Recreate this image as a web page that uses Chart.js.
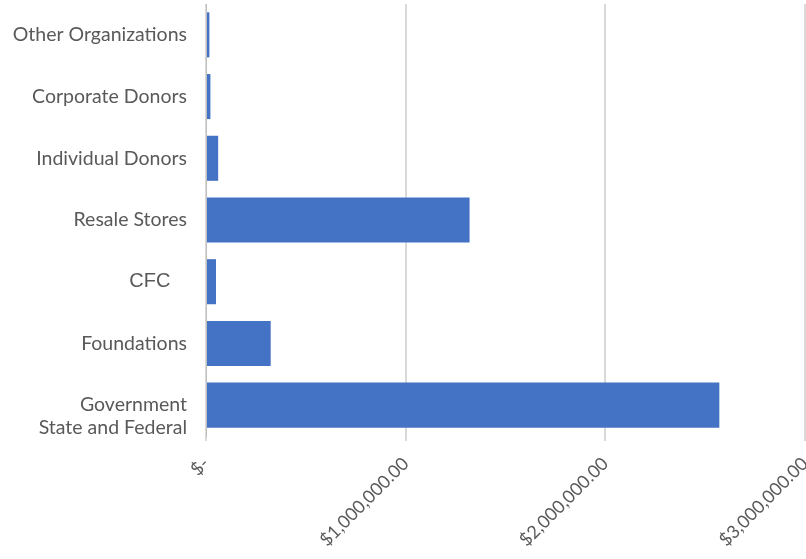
<!DOCTYPE html>
<html>
<head>
<meta charset="utf-8">
<script src="https://cdn.jsdelivr.net/npm/chart.js@4/dist/chart.umd.min.js"></script>
<style>
  html, body { margin: 0; padding: 0; background: #ffffff; }
  #wrap { width: 806px; height: 559px; position: relative; }
</style>
</head>
<body>
<div id="wrap"><canvas id="c" width="806" height="559"></canvas></div>
<script>
const categories = [
  "Other Organizations",
  "Corporate Donors",
  "Individual Donors",
  "Resale Stores",
  "CFC   ",
  "Foundations",
  ["", "Government", "State and Federal"]
];
const revenue = [17000, 22000, 61000, 1320000, 50000, 324000, 2571000];
const tickValues = [0, 1000000, 2000000, 3000000];
const tickLabels = ["$-", "$1,000,000.00", "$2,000,000.00", "$3,000,000.00"];

new Chart(document.getElementById('c'), {
  type: 'bar',
  data: {
    labels: categories,
    datasets: [{
      data: revenue,
      backgroundColor: '#4472C4',
      borderWidth: 0,
      categoryPercentage: 1.0,
      barPercentage: 0.73
    }]
  },
  options: {
    indexAxis: 'y',
    responsive: false,
    animation: false,
    layout: { padding: { top: 4, right: 1, left: 0, bottom: 0 } },
    plugins: { legend: { display: false }, tooltip: { enabled: false } },
    scales: {
      x: {
        min: 0,
        max: 3000000,
        afterBuildTicks: (s) => { s.ticks = tickValues.map(v => ({ value: v })); },
        afterFit: (s) => { s.height = 123; s.paddingRight = 0; s.paddingLeft = 0; },
        grid: { color: '#d9d9d9', lineWidth: 2, tickLength: 5, drawTicks: true },
        border: { display: false },
        ticks: {
          maxRotation: 45,
          minRotation: 45,
          autoSkip: false,
          padding: 12,
          color: '#595959',
          font: { family: 'Lato', size: 18 },
          callback: (v, i) => tickLabels[i]
        }
      },
      y: {
        afterFit: (s) => { s.width = 206; s.paddingTop = 0; s.paddingBottom = 0; },
        grid: { display: false, drawTicks: false },
        border: { display: true, color: '#bfbfbf', width: 1 },
        ticks: {
          autoSkip: false,
          padding: 19,
          color: '#595959',
          font: (ctx) => ctx.index === 4
            ? { family: 'Liberation Sans', size: 20, lineHeight: 1.1 }
            : { family: 'Lato', size: 19.5, lineHeight: 1.15 }
        }
      }
    }
  }
});
</script>
</body>
</html>
